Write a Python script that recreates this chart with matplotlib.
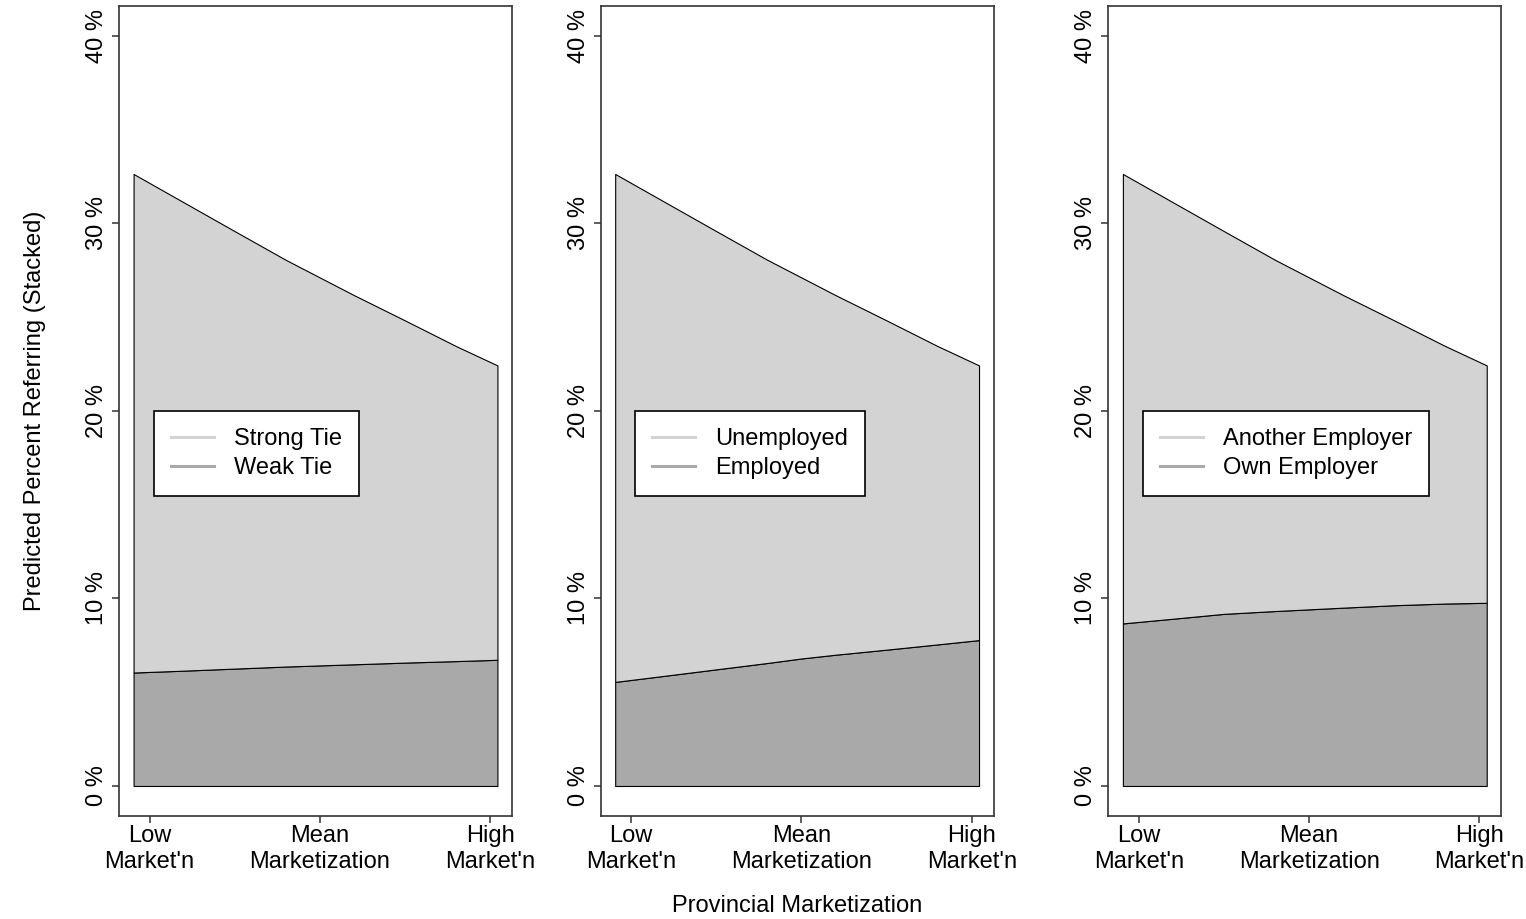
import matplotlib
matplotlib.use('Agg')
import matplotlib.pyplot as plt
from matplotlib.lines import Line2D
import numpy as np

plt.rcParams['font.family'] = ['Liberation Sans', 'DejaVu Sans']

# marketization (standardised)
MARKET = [-1.094, -0.8, -0.5, -0.2, 0.0, 0.2, 0.5, 0.8, 1.043]
# total predicted percent referring (top of the stack, same in all panels)
TOTAL = [32.64, 31.13, 29.59, 28.06, 27.12, 26.18, 24.83, 23.46, 22.43]
# lower band of each panel
WEAK_TIE = [6.05, 6.15, 6.26, 6.37, 6.43, 6.49, 6.58, 6.66, 6.73]
EMPLOYED = [5.55, 5.88, 6.22, 6.56, 6.80, 7.00, 7.27, 7.55, 7.78]
OWN_EMPLOYER = [8.67, 8.92, 9.18, 9.33, 9.42, 9.51, 9.64, 9.73, 9.77]

LEGENDS = [
    ['Strong Tie', 'Weak Tie'],
    ['Unemployed', 'Employed'],
    ['Another Employer', 'Own Employer'],
]
LOWER = [WEAK_TIE, EMPLOYED, OWN_EMPLOYER]

X_TICKS = [-1, 0, 1]
X_TICKLABELS = ["Low\nMarket'n", 'Mean\nMarketization', "High\nMarket'n"]
Y_TICKS = [0, 10, 20, 30, 40]

LIGHT = '#d3d3d3'
DARK = '#a9a9a9'
FS = 17

fig = plt.figure(figsize=(15.26, 9.19), dpi=100)
lefts = [0.0780, 0.3936, 0.7263]
x = np.array(MARKET)
total = np.array(TOTAL)
xpad = 0.04 * (x.max() - x.min())

axes = []
for i, left in enumerate(lefts):
    ax = fig.add_axes([left, 0.1121, 0.2575, 0.8814])
    axes.append(ax)
    low = np.array(LOWER[i])
    ax.fill_between(x, 0, low, facecolor=DARK, edgecolor='black', lw=0.8)
    ax.fill_between(x, low, total, facecolor=LIGHT, edgecolor='black', lw=0.8)

    ax.set_xlim(x.min() - xpad, x.max() + xpad)
    ax.set_ylim(-1.6, 41.6)
    ax.set_xticks(X_TICKS)
    ax.set_xticklabels(X_TICKLABELS, fontsize=FS, linespacing=1.25)
    ax.set_yticks(Y_TICKS)
    ax.set_yticklabels([f'{v} %' for v in Y_TICKS], fontsize=FS,
                       rotation=90, va='center')
    ax.tick_params(axis='both', length=5, width=1.1, color='#333333')
    ax.tick_params(axis='x', pad=1.5)
    ax.tick_params(axis='y', pad=3)
    for sp in ax.spines.values():
        sp.set_linewidth(1.2)
        sp.set_color('#333333')

    handles = [Line2D([], [], color=LIGHT, lw=2.2),
               Line2D([], [], color=DARK, lw=2.2)]
    leg = ax.legend(handles, LEGENDS[i], loc='upper left',
                    bbox_to_anchor=(-0.975, 20), bbox_transform=ax.transData,
                    borderaxespad=0, fontsize=FS, frameon=True, fancybox=False,
                    framealpha=1, edgecolor='black', borderpad=0.72,
                    labelspacing=0.3, handlelength=1.82, handletextpad=0.85)
    leg.get_frame().set_linewidth(1.2)

axes[0].set_ylabel('Predicted Percent Referring (Stacked)', fontsize=FS,
                   labelpad=29)
axes[1].set_xlabel('Provincial Marketization', fontsize=FS, labelpad=16)

fig.savefig('out.png', dpi=100)
